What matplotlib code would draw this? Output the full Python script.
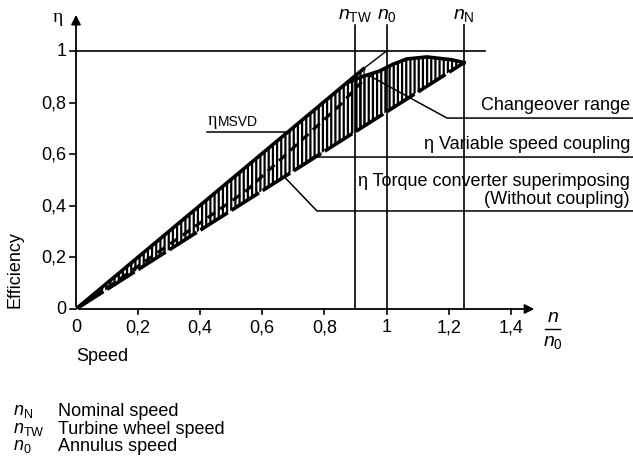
import numpy as np
import matplotlib
matplotlib.use('Agg')
import matplotlib.pyplot as plt

plt.rcParams['font.family'] = ['Liberation Sans', 'DejaVu Sans']
plt.rcParams['mathtext.fontset'] = 'custom'
plt.rcParams['mathtext.rm'] = 'Liberation Sans'
plt.rcParams['mathtext.it'] = 'Liberation Sans:italic'
plt.rcParams['hatch.linewidth'] = 1.6

# --- data ---
# eta of MSVD (upper edge of the left band), roughly eta = n/n0
msvd_n = [0.0, 0.93]
msvd_eta = [0.0, 0.935]
# lower edge (torque converter, without coupling)
conv_n = [0.0, 1.25]
conv_eta = [0.0, 0.955]
# dashed line inside the band
mid_n = [0.02, 0.3, 0.55, 0.75, 0.85, 0.92]
mid_eta = [0.015, 0.25, 0.46, 0.68, 0.79, 0.88]
# variable speed coupling curve
vsc_n = [0.88, 0.92, 0.977, 1.02, 1.065, 1.13, 1.21, 1.25]
vsc_eta = [0.88, 0.90, 0.922, 0.948, 0.969, 0.977, 0.966, 0.955]

speed_marks = [0.9, 1.0, 1.25]
speed_names = [r'$n_{\mathrm{TW}}$', r'$n_{0}$', r'$n_{\mathrm{N}}$']
xticks = [0, 0.2, 0.4, 0.6, 0.8, 1.0, 1.2, 1.4]
yticks = [0, 0.2, 0.4, 0.6, 0.8, 1.0]

legend_sym = [r'$n_{\mathrm{N}}$', r'$n_{\mathrm{TW}}$', r'$n_{0}$']
legend_txt = ['Nominal speed', 'Turbine wheel speed', 'Annulus speed']

W, H = 633, 460
fig = plt.figure(figsize=(W / 100, H / 100), dpi=100)
x0, y0 = 76, 310       # pixel position of origin
sx, sy = 310.5, 258.0  # pixels per unit
ax = fig.add_axes([x0 / W, (H - y0) / H, (W - x0) / W, y0 / H])
ax.set_xlim(0, (W - x0) / sx)
ax.set_ylim(0, y0 / sy)
ax.axis('off')


def ftxt(px, py, s, **kw):
    fig.text(px / W, 1 - py / H, s, **kw)


fs = 13

# axes with arrows
ax.annotate('', xy=(1.485, 0), xytext=(0, 0),
            arrowprops=dict(arrowstyle='-|>', lw=1.3, color='k', mutation_scale=14))
ax.annotate('', xy=(0, 1.151), xytext=(0, 0),
            arrowprops=dict(arrowstyle='-|>', lw=1.3, color='k', mutation_scale=14))
for t in xticks[1:]:
    ax.plot([t, t], [0, -0.02], color='k', lw=1.2, clip_on=False)
    ax.text(t, -0.035, ('%g' % t).replace('.', ','), ha='center', va='top', fontsize=fs)
ax.text(0, -0.035, '0', ha='center', va='top', fontsize=fs)
for t in yticks:
    ax.plot([0, -0.018], [t, t], color='k', lw=1.2, clip_on=False)
    ax.text(-0.03, t, ('%g' % t).replace('.', ','), ha='right', va='center', fontsize=fs)
ax.text(-0.06, 1.135, 'η', ha='center', va='center', fontsize=fs + 1, family='Liberation Serif')

# reference lines
ax.plot([0, 1.317], [1, 1], color='k', lw=1.2)
for m, lab in zip(speed_marks, speed_names):
    ax.plot([m, m], [0, 1.1], color='k', lw=1.2)
    ax.text(m, 1.14, lab, ha='center', va='center', fontsize=fs + 1)

# hatched bands
n_left = np.linspace(0, 0.93, 50)
up_left = np.interp(n_left, msvd_n, msvd_eta)
lo_left = np.interp(n_left, conv_n, conv_eta)
ax.fill_between(n_left, lo_left, up_left, facecolor='none', edgecolor='k', hatch='||||', lw=0)
n_right = np.linspace(vsc_n[0], vsc_n[-1], 60)
up_right = np.interp(n_right, vsc_n, vsc_eta)
lo_right = np.interp(n_right, conv_n, conv_eta)
ax.fill_between(n_right, lo_right, up_right, facecolor='none', edgecolor='k', hatch='||||', lw=0)

ax.plot(msvd_n, msvd_eta, color='k', lw=2.6, solid_capstyle='butt')
ax.plot([msvd_n[-1], 1.0], [msvd_eta[-1], 1.0], color='k', lw=1.0)
ax.plot(conv_n, conv_eta, color='k', lw=2.6, dashes=(9, 1.2))
ax.plot(mid_n, mid_eta, color='k', lw=2.2, dashes=(3, 2))
ax.plot(vsc_n, vsc_eta, color='k', lw=2.6)

# labels with leader lines
ax.plot([0.422, 0.686], [0.686, 0.686], color='k', lw=1.1)
ax.text(0.425, 0.70, 'η', ha='left', va='bottom', fontsize=fs, family='Liberation Serif')
ax.text(0.456, 0.70, 'MSVD', ha='left', va='bottom', fontsize=fs - 3)

xr = (W - x0) / sx
ax.plot([0.947, 1.195, xr], [0.903, 0.740, 0.740], color='k', lw=1.1)
ax.text(xr - 0.01, 0.76, 'Changeover range', ha='right', va='bottom', fontsize=fs)

ax.plot([0.735, 0.763, xr], [0.565, 0.589, 0.589], color='k', lw=1.1)
ax.text(xr - 0.01, 0.608, 'η Variable speed coupling', ha='right', va='bottom', fontsize=fs)

ax.plot([0.671, 0.776, xr], [0.512, 0.380, 0.380], color='k', lw=1.1)
ax.text(xr - 0.01, 0.465, 'η Torque converter superimposing', ha='right', va='bottom', fontsize=fs)
ax.text(xr - 0.01, 0.397, '(Without coupling)', ha='right', va='bottom', fontsize=fs)

# n / n0 fraction
ax.text(1.535, -0.03, r'$n$', ha='center', va='center', fontsize=fs + 1)
ax.plot([1.51, 1.56], [-0.078, -0.078], color='k', lw=1.0, clip_on=False)
ax.text(1.535, -0.125, r'$n_{0}$', ha='center', va='center', fontsize=fs + 1)

# axis titles and key
ftxt(15, 270, 'Efficiency', rotation=90, ha='center', va='center', fontsize=fs)
ftxt(102, 357, 'Speed', ha='center', va='center', fontsize=fs)
for i, (s, t) in enumerate(zip(legend_sym, legend_txt)):
    yy = 412 + i * 17.5
    ftxt(13, yy, s, ha='left', va='center', fontsize=fs)
    ftxt(58, yy, t, ha='left', va='center', fontsize=fs)

fig.savefig('out.png', dpi=100)
